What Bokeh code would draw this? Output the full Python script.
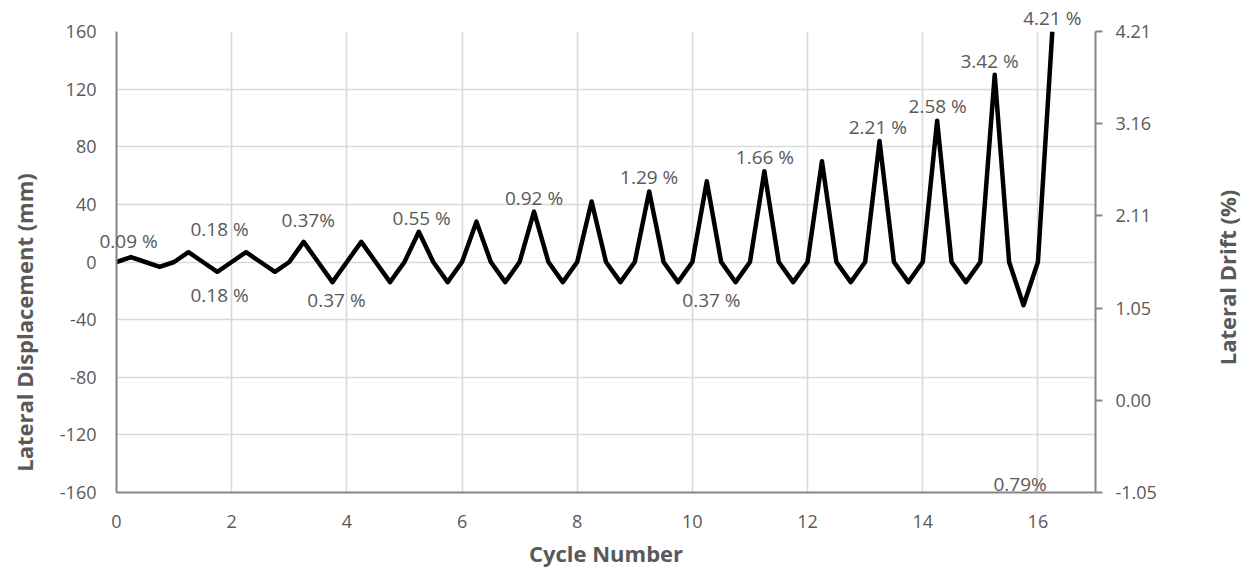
import math
from bokeh.plotting import figure
from bokeh.models import Range1d, LinearAxis, FixedTicker, Label, NumeralTickFormatter, ColumnDataSource
from bokeh.embed import file_html
from bokeh.resources import INLINE

# ---- data ----
cycle = [0, 0.25, 0.5, 0.75,
         1, 1.25, 1.5, 1.75,
         2, 2.25, 2.5, 2.75,
         3, 3.25, 3.5, 3.75,
         4, 4.25, 4.5, 4.75,
         5, 5.25, 5.5, 5.75,
         6, 6.25, 6.5, 6.75,
         7, 7.25, 7.5, 7.75,
         8, 8.25, 8.5, 8.75,
         9, 9.25, 9.5, 9.75,
         10, 10.25, 10.5, 10.75,
         11, 11.25, 11.5, 11.75,
         12, 12.25, 12.5, 12.75,
         13, 13.25, 13.5, 13.75,
         14, 14.25, 14.5, 14.75,
         15, 15.25, 15.5, 15.75,
         16, 16.25]
displacement = [0, 3.4, 0, -3.4,
                0, 6.8, 0, -6.8,
                0, 6.8, 0, -6.8,
                0, 14, 0, -14,
                0, 14, 0, -14,
                0, 21, 0, -14,
                0, 28, 0, -14,
                0, 35, 0, -14,
                0, 42, 0, -14,
                0, 49, 0, -14,
                0, 56, 0, -14,
                0, 63, 0, -14,
                0, 70, 0, -14,
                0, 84, 0, -14,
                0, 98, 0, -14,
                0, 130, 0, -30,
                0, 160]

x_ticks = [0, 2, 4, 6, 8, 10, 12, 14, 16]
y_ticks = [-160, -120, -80, -40, 0, 40, 80, 120, 160]
drift_ticks = [-1.05, 0.00, 1.05, 2.11, 3.16, 4.21]

ann_text = ["0.09 %", "0.18 %", "0.18 %", "0.37%", "0.37 %", "0.55 %", "0.92 %",
            "1.29 %", "0.37 %", "1.66 %", "2.21 %", "2.58 %", "3.42 %", "4.21 %", "0.79%"]
ann_x = [0.21, 1.79, 1.79, 3.33, 3.82, 5.30, 7.25, 9.25, 10.33, 11.26, 13.22, 14.26, 15.16, 16.25, 15.69]
ann_y = [14.9, 22.9, -22.6, 29.5, -26.7, 30.5, 44.1, 58.7, -26.7, 72.8, 93.6, 108.6, 139.5, 169.7, -153.8]

FONT = "Open Sans"
GREY_TXT = "#595959"
AXIS_COL = "#858585"
GRID_COL = "#d9d9d9"

p = figure(frame_width=979, frame_height=461,
           min_border_left=116, min_border_right=150, min_border_top=31, min_border_bottom=77,
           x_range=Range1d(0, 17), y_range=Range1d(-160, 160),
           output_backend="svg", toolbar_location=None)
p.outline_line_color = None
p.background_fill_color = "white"
p.border_fill_color = "white"

# grid
p.xgrid.ticker = FixedTicker(ticks=x_ticks)
p.ygrid.ticker = FixedTicker(ticks=y_ticks)
for g in (p.xgrid, p.ygrid):
    g.grid_line_color = GRID_COL
    g.grid_line_width = 1.6

# bottom axis
xa = p.xaxis[0]
xa.ticker = FixedTicker(ticks=x_ticks)
xa.axis_label = "Cycle Number"
xa.axis_label_text_font = FONT
xa.axis_label_text_font_style = "bold"
xa.axis_label_text_font_size = "22px"
xa.axis_label_text_color = GREY_TXT
xa.axis_label_standoff = 7
xa.major_label_standoff = 16

# left axis
ya = p.yaxis[0]
ya.ticker = FixedTicker(ticks=y_ticks)
ya.formatter = NumeralTickFormatter(format="0")
ya.major_label_standoff = 14

# right axis
p.extra_y_ranges = {"drift": Range1d(-1.05, 4.21)}
ra = LinearAxis(y_range_name="drift", ticker=FixedTicker(ticks=drift_ticks),
                formatter=NumeralTickFormatter(format="0.00"))
ra.major_tick_out = 7
ra.major_tick_in = 0
ra.major_label_standoff = 13
p.add_layout(ra, "right")

for ax in (xa, ya, ra):
    ax.axis_line_color = AXIS_COL
    ax.axis_line_width = 2
    ax.major_label_text_font = FONT
    ax.major_label_text_font_size = "18px"
    ax.major_label_text_color = GREY_TXT
    ax.minor_tick_line_color = None
for ax in (xa, ya):
    ax.major_tick_line_color = None
ra.major_tick_line_color = AXIS_COL
ra.major_tick_line_width = 2

# data line
src = ColumnDataSource(dict(cycle=cycle, displacement=displacement))
p.line("cycle", "displacement", source=src, line_color="black", line_width=4.5, line_join="round")


def lab(x, y, t, **kw):
    return Label(x=x, y=y, text=t, text_align="center", text_baseline="middle",
                 text_font=FONT, text_font_size="19px", text_color=GREY_TXT, **kw)


# data labels (the ones leaving the frame go in side panels so they are not clipped)
for t, x, y in zip(ann_text, ann_x, ann_y):
    if y > 160:
        p.add_layout(lab(x, y, t), "above")
    elif x < 0.5:
        p.add_layout(lab(x, y, t), "right")
    else:
        p.add_layout(lab(x, y, t))

# axis titles placed as labels in side panels
tl = lab(-1.61, -42, "Lateral Displacement (mm)", angle=math.pi / 2)
tl.text_font_style = "bold"
tl.text_font_size = "22px"
p.add_layout(tl, "left")
tr = lab(19.29, -10.8, "Lateral Drift (%)", angle=math.pi / 2)
tr.text_font_style = "bold"
tr.text_font_size = "22px"
p.add_layout(tr, "right")

open("out.html", "w").write(file_html(p, INLINE))
